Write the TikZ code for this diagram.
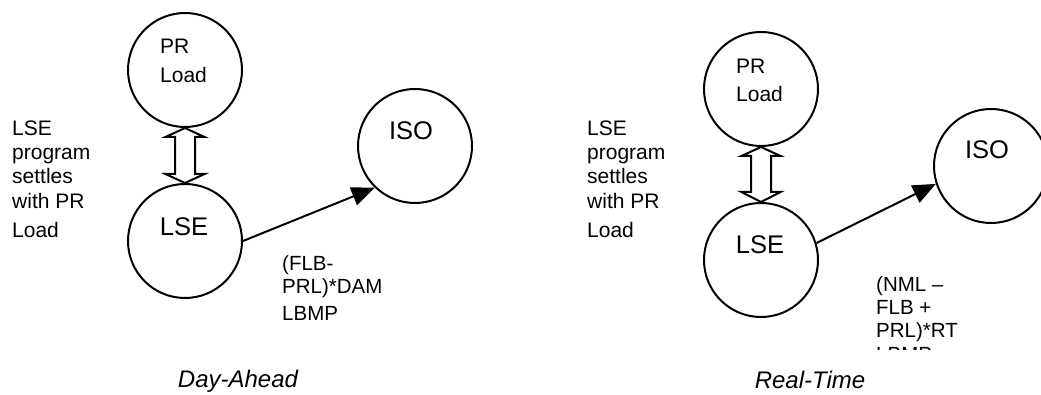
\documentclass[tikz,border=0pt]{standalone}
\usepackage{fontspec}
\setmainfont{Liberation Sans}
\usetikzlibrary{arrows.meta,calc}
\tikzset{
  circ/.style={circle, draw, line width=2pt, minimum size=114pt, inner sep=0pt},
  txt/.style={anchor=base west, inner sep=0pt, font=\fontsize{21}{24}\selectfont},
  big/.style={anchor=base, inner sep=0pt, font=\fontsize{25.5}{30}\selectfont},
  lbl/.style={anchor=base west, inner sep=0pt, font=\fontsize{20.5}{24}\selectfont},
  ttl/.style={anchor=base, inner sep=0pt, font=\fontsize{24}{28}\selectfont\itshape},
  conn/.style={line width=2pt, -{Triangle[length=23pt,width=19pt]}},
  blockarrow/.style={draw, line width=2pt, fill=white, line join=miter}
}
\begin{document}
\begin{tikzpicture}[x=1pt,y=-1pt]
\useasboundingbox (0,0) rectangle (1041,395);
\clip (0,0) rectangle (1041,395);

% ---------- Day-Ahead ----------
\node[circ] (pr1) at (185,70) {};
\node[circ] (lse1) at (185,241) {};
\node[circ] (iso1) at (415,146) {};
\node[txt] (pr1a) at (160,54) {PR};
\node[txt] (pr1b) at (160,83) {Load};
\node[big] (lse1t) at (184,236) {LSE};
\node[big] (iso1t) at (411,140) {ISO};

\node[txt] (l1a) at (12,136) {LSE};
\node[txt] (l1b) at (12,160) {program};
\node[txt] (l1c) at (12,184) {settles};
\node[txt] (l1d) at (12,209) {with PR};
\node[txt] (l1e) at (12,238) {Load};

\draw[blockarrow] (pr1.south) -- ($(pr1.south)+(-19.5,9)$) -- ($(pr1.south)+(-10,9)$)
  -- ($(lse1.north)+(-10,-9)$) -- ($(lse1.north)+(-19.5,-9)$) -- (lse1.north)
  -- ($(lse1.north)+(19.5,-9)$) -- ($(lse1.north)+(10,-9)$)
  -- ($(pr1.south)+(10,9)$) -- ($(pr1.south)+(19.5,9)$) -- cycle;

\draw[conn] (lse1.east) -- (iso1.226);

\node[lbl] (f1a) at (282,271) {(FLB-};
\node[lbl] (f1b) at (282,294) {PRL)*DAM};
\node[lbl] (f1c) at (282,320) {LBMP};

\node[ttl] (t1) at (238,387) {Day-Ahead};

% ---------- Real-Time ----------
\node[circ] (pr2) at (761,89) {};
\node[circ] (lse2) at (761,260) {};
\node[circ] (iso2) at (991,166) {};
\node[txt] (pr2a) at (736,74) {PR};
\node[txt] (pr2b) at (736,102) {Load};
\node[big] (lse2t) at (760,254) {LSE};
\node[big] (iso2t) at (987,159) {ISO};

\node[txt] (l2a) at (587,136) {LSE};
\node[txt] (l2b) at (587,160) {program};
\node[txt] (l2c) at (587,184) {settles};
\node[txt] (l2d) at (587,209) {with PR};
\node[txt] (l2e) at (587,238) {Load};

\draw[blockarrow] (pr2.south) -- ($(pr2.south)+(-19.5,9)$) -- ($(pr2.south)+(-10,9)$)
  -- ($(lse2.north)+(-10,-10)$) -- ($(lse2.north)+(-19.5,-10)$) -- (lse2.north)
  -- ($(lse2.north)+(19.5,-10)$) -- ($(lse2.north)+(10,-10)$)
  -- ($(pr2.south)+(10,9)$) -- ($(pr2.south)+(19.5,9)$) -- cycle;

\draw[conn] (lse2.17) -- (iso2.198);

\begin{scope}
  \clip (860,265) rectangle (1000,349);
  \node[lbl] (f2a) at (876,291) {(NML –};
  \node[lbl] (f2b) at (876,314) {FLB +};
  \node[lbl] (f2c) at (876,337) {PRL)*RT};
  \node[lbl] (f2d) at (876,361) {LBMP};
\end{scope}

\node[ttl] (t2) at (810,388) {Real-Time};
\end{tikzpicture}
\end{document}
